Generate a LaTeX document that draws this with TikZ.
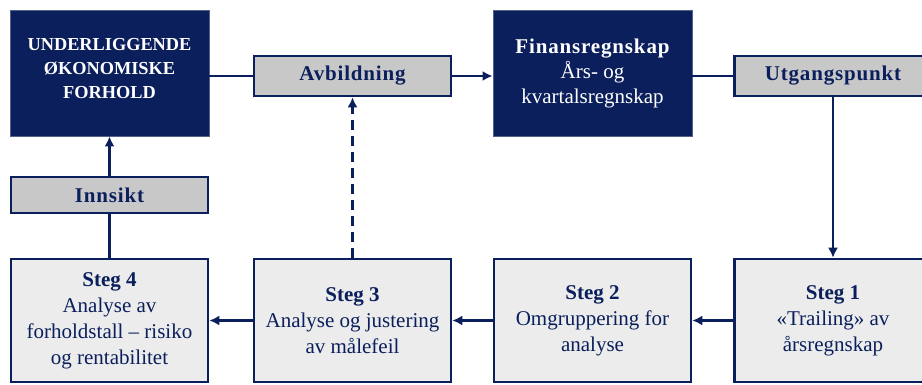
\documentclass[tikz,border=0pt]{standalone}
\usepackage{fontspec}
\setmainfont{Liberation Serif}
\newfontfamily\spacedbold[LetterSpace=4,BoldFont={Liberation Serif Bold}]{Liberation Serif}
\usetikzlibrary{arrows.meta}
\definecolor{navy}{RGB}{10,31,91}
\definecolor{labelgray}{RGB}{200,200,200}
\definecolor{stepgray}{RGB}{236,236,236}
\newcommand{\capsline}[1]{{\fontsize{18.3}{24}\selectfont\bfseries #1}}
\tikzset{
  x=1pt, y=-1pt,
  darkbox/.style={draw=navy!70, line width=0.8pt, fill=navy, text=white,
    minimum width=199pt, minimum height=126pt, align=center, inner sep=2pt,
    font=\fontsize{21}{25}\selectfont},
  labelbox/.style={draw=navy, line width=2.6pt, fill=labelgray, text=navy,
    minimum width=197pt, minimum height=40pt, align=center,
    font=\fontsize{21}{25}\spacedbold\bfseries},
  stepbox/.style={draw=navy, line width=2.6pt, fill=stepgray, text=navy,
    minimum width=197pt, minimum height=123pt, align=center, inner sep=2pt,
    font=\fontsize{21}{26}\selectfont},
  link/.style={draw=navy, line width=2.6pt},
  flow/.style={link, -{Latex[length=10pt,width=10pt]}},
}
\begin{document}
\begin{tikzpicture}
\useasboundingbox (0,0) rectangle (922,385);
\clip (0,0) rectangle (922,385);

% top row
\node[darkbox, text depth=10pt] (base) at (109.5,73)
  {\capsline{UNDERLIGGENDE}\\[-1pt]\capsline{ØKONOMISKE}\\[-1pt]\capsline{FORHOLD}};
\node[labelbox] (avb) at (352.5,76) {Avbildning};
\node[darkbox] (fin) at (592.5,73)
  {{\spacedbold\bfseries Finansregnskap}\\Års- og\\kvartalsregnskap};
\node[labelbox] (utg) at (833,76) {Utgangspunkt};

% insight label
\node[labelbox, minimum height=36pt] (inn) at (109.5,195) {Innsikt};

% bottom row: analysis steps
\node[stepbox] (s4) at (109.5,320.5)
  {\textbf{Steg 4}\\Analyse av\\forholdstall – risiko\\og rentabilitet};
\node[stepbox] (s3) at (352.5,320.5)
  {\textbf{Steg 3}\\Analyse og justering\\av målefeil};
\node[stepbox] (s2) at (592.5,320.5)
  {\textbf{Steg 2}\\Omgruppering for\\analyse};
\node[stepbox] (s1) at (833,320.5)
  {\textbf{Steg 1}\\«Trailing» av\\årsregnskap};

% connectors
\draw[link] (base.east |- avb.west) -- (avb.west);
\draw[flow] (avb.east) -- (fin.west |- avb.east);
\draw[link] (fin.east |- avb.east) -- (utg.west);
\draw[flow] (utg.south) -- (s1.north);
\draw[flow] (s1.west) -- (s2.east);
\draw[flow] (s2.west) -- (s3.east);
\draw[flow] (s3.west) -- (s4.east);
\draw[link] (s4.north) -- (inn.south);
\draw[flow] (inn.north) -- (base.south);
\draw[flow, dash pattern=on 10pt off 6pt] (s3.north) -- (avb.south);
\end{tikzpicture}
\end{document}
